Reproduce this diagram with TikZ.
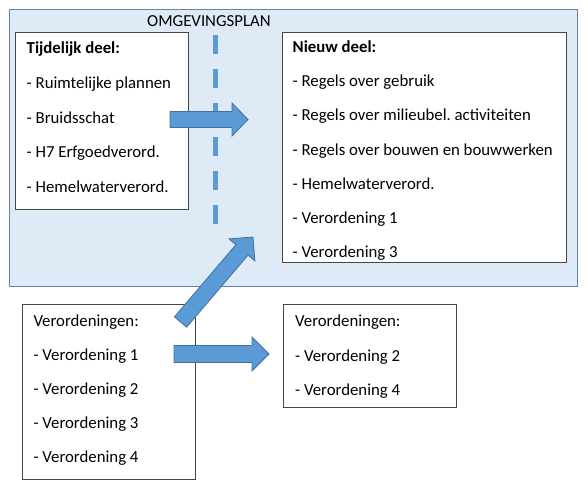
\documentclass[tikz,border=0pt]{standalone}
\usepackage{fontspec}
\setmainfont{Carlito}
\frenchspacing
\usetikzlibrary{calc}
\definecolor{planfill}{RGB}{222,235,247}
\definecolor{planline}{RGB}{100,130,170}
\definecolor{arrowfill}{RGB}{91,155,213}
\definecolor{arrowline}{RGB}{65,113,156}
\definecolor{boxline}{RGB}{70,70,70}
\tikzset{
  plan/.style={draw=planline, fill=planfill, line width=1.2pt, rectangle, anchor=north west, inner sep=0pt},
  listbox/.style={draw=boxline, fill=white, line width=0.8pt, rectangle, anchor=north west, inner sep=0pt},
  txt/.style={anchor=base west, inner sep=0pt, font=\fontsize{16.8}{20}\selectfont},
  boldtxt/.style={txt, font=\fontsize{16.8}{20}\selectfont\bfseries},
  barrow/.style={draw=arrowline, fill=arrowfill, line width=0.8pt, line join=miter},
  divider/.style={draw=arrowfill, line width=5pt, dash pattern=on 19pt off 15pt}
}
% block arrow: tail, tip, half shaft, half head, head length
\newcommand\blockarrow[5]{%
  \path ($(#2)!#5!(#1)$) coordinate (bC);
  \draw[barrow] ($(#1)!#3!90:(#2)$) -- ($(bC)!#3!90:(#2)$) -- ($(bC)!#4!90:(#2)$)
    -- (#2) -- ($(bC)!#4!-90:(#2)$) -- ($(bC)!#3!-90:(#2)$) -- ($(#1)!#3!-90:(#2)$) -- cycle;
}
\begin{document}
\begin{tikzpicture}[x=1pt,y=-1pt]
\useasboundingbox (0,0) rectangle (588,484);
% outer plan
\node[plan, minimum width=568pt, minimum height=277pt] (plan) at (9,9) {};
\node[txt] (plantitle) at (147,27) {OMGEVINGSPLAN};
% divider
\coordinate (dtop) at (215.7,35);
\coordinate (dbot) at (215.7,224);
\draw[divider] (dtop) -- (dbot);
% tijdelijk box
\node[listbox, minimum width=173pt, minimum height=177pt] (tijd) at (15,32) {};
\node[boldtxt] (t0) at (26.5,54) {Tijdelijk deel:};
\node[txt] (t1) at (26.5,88.5) {- Ruimtelijke plannen};
\node[txt] (t2) at (26.5,123) {- Bruidsschat};
\node[txt] (t3) at (26.5,157.5) {- H7 Erfgoedverord.};
\node[txt] (t4) at (26.5,192) {- Hemelwaterverord.};
% nieuw box
\node[listbox, minimum width=284pt, minimum height=230pt] (nieuw) at (282,32) {};
\node[boldtxt] (n0) at (292.5,53) {Nieuw deel:};
\node[txt] (n1) at (292.5,87) {- Regels over gebruik};
\node[txt] (n2) at (292.5,121) {- Regels over milieubel. activiteiten};
\node[txt] (n3) at (292.5,155) {- Regels over bouwen en bouwwerken};
\node[txt] (n4) at (292.5,189) {- Hemelwaterverord.};
\node[txt] (n5) at (292.5,223) {- Verordening 1};
\node[txt] (n6) at (292.5,257) {- Verordening 3};
% bottom left box
\node[listbox, minimum width=173pt, minimum height=175pt] (verl) at (22,304) {};
\node[txt] (v0) at (33.3,326.7) {Verordeningen:};
\node[txt] (v1) at (33.3,360.7) {- Verordening 1};
\node[txt] (v2) at (33.3,394.7) {- Verordening 2};
\node[txt] (v3) at (33.3,428.7) {- Verordening 3};
\node[txt] (v4) at (33.3,462.7) {- Verordening 4};
% bottom right box
\node[listbox, minimum width=173pt, minimum height=103pt] (verr) at (283,304) {};
\node[txt] (w0) at (295,326.7) {Verordeningen:};
\node[txt] (w1) at (295,361) {- Verordening 2};
\node[txt] (w2) at (295,395) {- Verordening 4};
% arrows
\coordinate (a1s) at (170,119.5);
\coordinate (a1e) at (248,119.5);
\blockarrow{a1s}{a1e}{8pt}{16.5pt}{16pt}
\coordinate (a2s) at (180.5,322);
\coordinate (a2e) at (253,237);
\blockarrow{a2s}{a2e}{8pt}{17pt}{17pt}
\coordinate (a3s) at (174,354);
\coordinate (a3e) at (269,354);
\blockarrow{a3s}{a3e}{8.5pt}{17pt}{17pt}
\end{tikzpicture}
\end{document}
